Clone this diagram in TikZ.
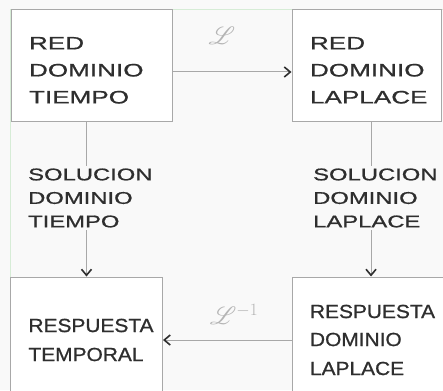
\documentclass[tikz,border=0pt]{standalone}
\usepackage{fontspec}
\usepackage{amsmath,amssymb}
\usepackage{mathrsfs}
\usepackage{xcolor}
\usetikzlibrary{calc,arrows.meta}
\newfontfamily\widesans[FakeStretch=1.45,FakeBold=0.9]{Liberation Sans}
\newfontfamily\midsans[FakeStretch=1.4,FakeBold=0.9]{Liberation Sans}
\newfontfamily\lowsans[FakeStretch=1.1,FakeBold=0.9]{Liberation Sans}
\definecolor{bg}{HTML}{F9F9F9}
\definecolor{ink}{HTML}{2E2E2E}
\definecolor{edge}{HTML}{A8A8A8}
\definecolor{faint}{HTML}{B4B4B4}
\definecolor{rim}{HTML}{D6ECD6}
\tikzset{
  box/.style={draw=edge, line width=1.0pt, fill=white, align=left, inner xsep=18pt, inner ysep=0pt, text=ink},
  topfont/.style={font=\widesans\fontsize{18}{27}\selectfont},
  lowfont/.style={font=\lowsans\fontsize{19}{29}\selectfont},
  conn/.style={draw=edge, line width=1.0pt, -{Straight Barb[length=6pt,width=10pt,line width=1.6pt,color=ink]}},
  step lab/.style={fill=bg, inner sep=2pt, align=left, text=ink, anchor=west, font=\midsans\fontsize{17}{23.5}\selectfont},
  tr/.style={text=faint, font=\fontsize{26}{26}\selectfont},
}

\begin{document}
\begin{tikzpicture}[x=1pt,y=-1pt]
  \path[use as bounding box, fill=bg] (0,0) rectangle (443,390);
  \clip (0,0) rectangle (443,390);
  \draw[rim, line width=0.8pt] (10,400) -- (10,9) -- (443,9);

  \node[box, topfont, text width=125pt, minimum height=112pt] (tdom) at (91.5,66) {\rule{0pt}{21pt}RED\\DOMINIO\\TIEMPO};
  \node[box, topfont, text width=113pt, minimum height=112pt] (ldom) at (366.5,66) {\rule{0pt}{21pt}RED\\DOMINIO\\LAPLACE};
  \node[box, lowfont, text width=116pt, minimum height=126pt] (tresp) at (86.5,340) {RESPUESTA\\TEMPORAL};
  \node[box, lowfont, text width=122pt, minimum height=126pt, inner xsep=18pt] (lresp) at (371,340)
    {\fontsize{19}{28}\selectfont RESPUESTA\\DOMINIO\\LAPLACE};

  \draw[conn] ([yshift=-6pt]tdom.east) -- ([yshift=-6pt]ldom.east -| ldom.west);
  \draw[conn] (lresp.west) -- (tresp.east);
  \draw[conn] (tdom.south -| tresp.north) -- (tresp.north);
  \draw[conn] (ldom.south -| lresp.north) -- (lresp.north);

  \node[step lab] (tsol) at (26,198) {SOLUCION\\DOMINIO\\TIEMPO};
  \node[step lab] (lsol) at (311,198) {SOLUCION\\DOMINIO\\LAPLACE};

  \node[tr] (fwd) at (222,36) {$\mathscr{L}$};
  \node[tr] (inv) at (234,314) {$\mathscr{L}^{-1}$};
\end{tikzpicture}
\end{document}
